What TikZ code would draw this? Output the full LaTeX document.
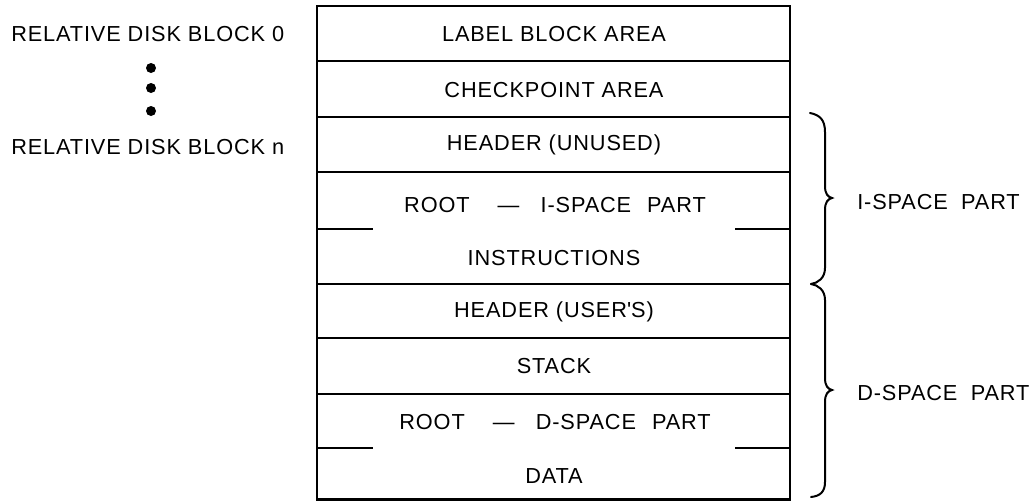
\documentclass[tikz,border=0pt]{standalone}
\usepackage{fontspec}
\setmainfont{Liberation Sans}[LetterSpace=4]
\begin{document}
\begin{tikzpicture}[x=0.75pt,y=-0.75pt,
  lbl/.style={font=\fontsize{16.3}{19}\selectfont, inner sep=0pt, anchor=center},
  edge/.style={line width=1.6pt},
  brc/.style={line width=1.5pt, line cap=round},
  dotmark/.style={circle, fill=black, inner sep=0pt, minimum size=7.5pt}]
\useasboundingbox (0,0) rectangle (1029,501);
% corners of the block column
\coordinate (tl) at (317,6);
\coordinate (br) at (790,499.5);
\draw[edge] (tl) rectangle (br);
% full row dividers
\foreach \y/\n in {61/a,117/b,172/c,284/d,338/e,394/f}{
  \coordinate (L\n) at (317,\y);
  \coordinate (R\n) at (790,\y);
  \draw[edge] (L\n) -- (R\n);
}
% partial dividers
\coordinate (pl1) at (317,229);  \coordinate (pl1e) at (373,229);
\coordinate (pr1) at (735,229);  \coordinate (pr1e) at (790,229);
\coordinate (pl2) at (317,448);  \coordinate (pl2e) at (373,448);
\coordinate (pr2) at (735,448);  \coordinate (pr2e) at (790,448);
\draw[edge] (pl1) -- (pl1e);
\draw[edge] (pr1) -- (pr1e);
\draw[edge] (pl2) -- (pl2e);
\draw[edge] (pr2) -- (pr2e);
% row labels
\node[lbl] (lba) at (554,34) {LABEL BLOCK AREA};
\node[lbl] (cka) at (554,90) {CHECKPOINT AREA};
\node[lbl] (hdu) at (554,145) {HEADER (UNUSED)};
\node[lbl] (rti) at (555,205) {ROOT\hspace{21pt}—\hspace{16pt}I-SPACE\hspace{12pt}PART};
\node[lbl] (ins) at (554,258) {INSTRUCTIONS};
\node[lbl] (hdr) at (554,312) {HEADER (USER\textquotesingle S)};
\node[lbl] (stk) at (554,366) {STACK};
\node[lbl] (rtd) at (555,422) {ROOT\hspace{21pt}—\hspace{16pt}D-SPACE\hspace{12pt}PART};
\node[lbl] (dat) at (554,476) {DATA};
% left labels
\node[lbl, anchor=west] (rd0) at (11,34) {RELATIVE DISK BLOCK 0};
\node[lbl, anchor=west] (rdn) at (11,147) {RELATIVE DISK BLOCK n};
\node[dotmark] (d1) at (151,68) {};
\node[dotmark] (d2) at (151,88) {};
\node[dotmark] (d3) at (151,111) {};
% braces
\draw[brc] (810,113) .. controls (820,115) and (825,120) .. (825,132)
  -- (825,186) .. controls (825,194) and (828,197) .. (832,198)
  .. controls (828,199) and (825,202) .. (825,210)
  -- (825,268) .. controls (825,278) and (818,283) .. (811,284);
\draw[brc] (811,284) .. controls (818,285) and (825,290) .. (825,300)
  -- (825,378) .. controls (825,386) and (828,389) .. (832,390)
  .. controls (828,391) and (825,394) .. (825,402)
  -- (825,482) .. controls (825,492) and (820,496) .. (811,497);
\node[lbl, anchor=west] (isp) at (857,202) {I-SPACE\hspace{10pt}PART};
\node[lbl, anchor=west] (dsp) at (857,393) {D-SPACE\hspace{10pt}PART};
\end{tikzpicture}
\end{document}
